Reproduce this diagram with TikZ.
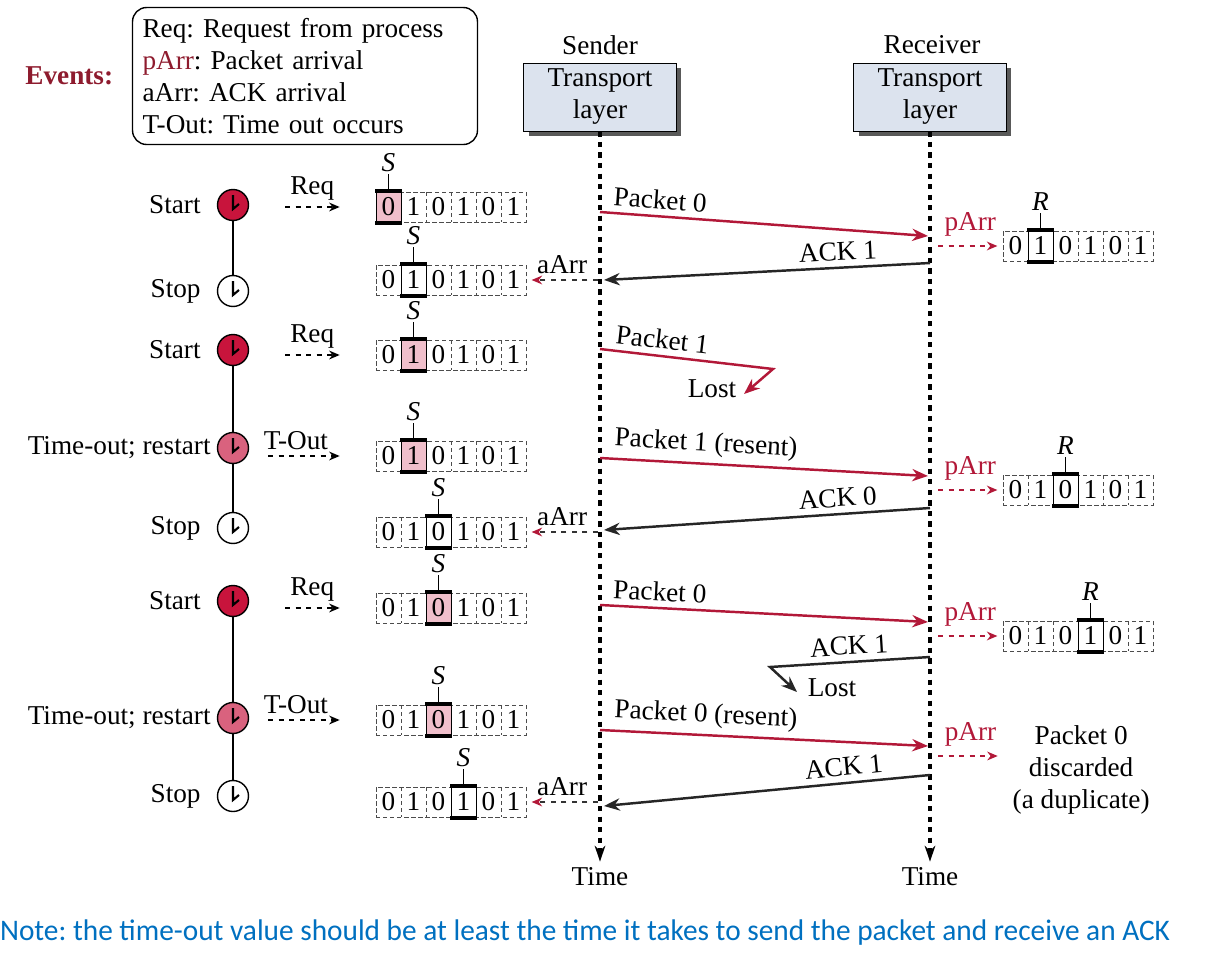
\documentclass[tikz,border=0pt]{standalone}
\usepackage{fontspec}
\setmainfont{Liberation Serif}
\newfontfamily\notefont{Carlito}
\usetikzlibrary{positioning,arrows.meta,shadows}
\definecolor{pktred}{HTML}{B21838}
\definecolor{evred}{HTML}{8E1B2E}
\definecolor{startred}{HTML}{C8143C}
\definecolor{outpink}{HTML}{D9627E}
\definecolor{cellpink}{HTML}{F0BFCB}
\definecolor{boxblue}{HTML}{DCE3EE}
\definecolor{noteblue}{HTML}{0070C0}
\frenchspacing
\begin{document}
\begin{tikzpicture}[x=0.02cm,y=-0.02cm,font=\fontsize{15.5}{18.2}\selectfont,
    clk/.style={circle,draw,thick,minimum size=0.62cm,inner sep=0pt,
      path picture={\draw[line width=1.2pt] ([yshift=0.2cm]path picture bounding box.center)
        -- ([yshift=-0.08cm]path picture bounding box.center)
        -- ([xshift=0.12cm,yshift=0.02cm]path picture bounding box.center);}},
    startclk/.style={clk,fill=startred},
    outclk/.style={clk,fill=outpink},
    stopclk/.style={clk,fill=white},
    layerbox/.style={draw,fill=boxblue,minimum width=3.06cm,minimum height=1.36cm,inner sep=1pt,align=center,
      drop shadow={shadow xshift=0.1cm,shadow yshift=-0.1cm,opacity=1,fill=black!65}},
    evbox/.style={draw,thick,rounded corners=8pt,align=left,text width=6.5cm,inner xsep=0.2cm,minimum height=2.74cm},
    timeline/.style={line width=1.8pt,dash pattern=on 3pt off 3pt,-{Stealth[length=9pt,width=6pt]}},
    pkt/.style={draw=pktred,line width=1.4pt,-{Stealth[length=9pt,width=7pt]}},
    ack/.style={draw=black!85,line width=1.4pt,-{Stealth[length=9pt,width=7pt]}},
    evarrow/.style={dashed,thick,shorten >=0.72cm,-{Stealth[length=6pt,width=5pt]}},
    aarr/.style={dashed,thick,draw=black!80,shorten >=3pt,-{Stealth[length=6pt,width=5pt,color=pktred]}},
    parr/.style={dashed,thick,draw=pktred,shorten >=3pt,-{Stealth[length=6pt,width=5pt]}},
    seqframe/.style={draw=black!70,dash pattern=on 2.5pt off 1.5pt,minimum width=3cm,minimum height=0.6cm,inner sep=0pt},
    sepline/.style={draw=black!70,dash pattern=on 2.5pt off 1.5pt},
    pics/seqbox/.style n args={3}{code={
      \node[seqframe] (-box) at (75,0) {};
      \foreach \i in {1,...,5}
        \draw[sepline] (25*\i,-15) -- (25*\i,15);
      \draw[fill=#2] (25*#1-25,-15) rectangle (25*#1,15);
      \draw[line width=2.5pt] (25*#1-26,-16) -- (25*#1+1,-16) (25*#1-26,16) -- (25*#1+1,16);
      \foreach \i in {1,...,6}{
        \pgfmathtruncatemacro\dg{mod(\i+1,2)}
        \node[inner sep=0pt] (-d\i) at (25*\i-12.5,0) {\dg};
      }
      \node[inner sep=1pt] (-lab) at (25*#1-12.5,-44) {\textit{#3}};
      \draw (-lab) -- (25*#1-12.5,-17);
    }}]
  \useasboundingbox (0,0) rectangle (1218,964);

  \node[evbox] (events) at (305,76) {Req: Request from process\\\textcolor{evred}{pArr}: Packet arrival\\aArr: ACK arrival\\T-Out: Time out occurs};
  \node[left=0.25cm of events,text=evred,font=\bfseries\fontsize{15.5}{18}\selectfont] (evtitle) {Events:};

  \node (sender) at (600,45) {Sender};
  \node[layerbox] (sbox) at (600,97) {Transport\\layer};
  \node (receiver) at (932,45) {Receiver};
  \node[layerbox] (rbox) at (930,97) {Transport\\layer};
  \node (stime) at (600,877) {Time};
  \node (rtime) at (930,877) {Time};
  \draw[timeline] (sbox.south) -- (stime.north);
  \draw[timeline] (rbox.south) -- (rtime.north);

  \node[startclk] (start1) at (233,205) {};
  \node[stopclk] (stop1) at (233,291) {};
  \node[startclk] (start2) at (233,350) {};
  \node[outclk] (tout1) at (233,448) {};
  \node[stopclk] (stop2) at (233,528) {};
  \node[startclk] (start3) at (233,601) {};
  \node[outclk] (tout2) at (233,718) {};
  \node[stopclk] (stop3) at (233,796) {};
  \draw[thick] (start1) -- (stop1);
  \draw[thick] (start2) -- (tout1) -- (stop2);
  \draw[thick] (start3) -- (tout2) -- (stop3);
  \node[left=0.2cm of start1] (start1l) {Start};
  \node[left=0.2cm of stop1] (stop1l) {Stop};
  \node[left=0.2cm of start2] (start2l) {Start};
  \node[left=0pt of tout1] (tout1l) {Time-out; restart};
  \node[left=0.2cm of stop2] (stop2l) {Stop};
  \node[left=0.2cm of start3] (start3l) {Start};
  \node[left=0pt of tout2] (tout2l) {Time-out; restart};
  \node[left=0.2cm of stop3] (stop3l) {Stop};

  \pic (s1) at (376,207) {seqbox={1}{cellpink}{S}};
  \pic (s2) at (376,280) {seqbox={2}{white}{S}};
  \pic (s3) at (376,355) {seqbox={2}{cellpink}{S}};
  \pic (s4) at (376,456) {seqbox={2}{cellpink}{S}};
  \pic (s5) at (376,532) {seqbox={3}{white}{S}};
  \pic (s6) at (376,608) {seqbox={3}{cellpink}{S}};
  \pic (s7) at (376,720) {seqbox={3}{cellpink}{S}};
  \pic (s8) at (376,802) {seqbox={4}{white}{S}};
  \pic (r1) at (1003,246) {seqbox={2}{white}{R}};
  \pic (r2) at (1003,490) {seqbox={3}{white}{R}};
  \pic (r3) at (1003,636) {seqbox={4}{white}{R}};

  \coordinate (req1) at (285,207);
  \coordinate (req2) at (285,355);
  \coordinate (req3) at (285,608);
  \coordinate (to1) at (268,456);
  \coordinate (to2) at (268,720);
  \draw (req1) edge[evarrow] node[above,pos=0.3] (req1l) {Req} (s1-box.west);
  \draw (req2) edge[evarrow] node[above,pos=0.3] (req2l) {Req} (s3-box.west);
  \draw (req3) edge[evarrow] node[above,pos=0.3] (req3l) {Req} (s6-box.west);
  \draw (to1) edge[evarrow] node[above,pos=0.26] (to1l) {T-Out} (s4-box.west);
  \draw (to2) edge[evarrow] node[above,pos=0.26] (to2l) {T-Out} (s7-box.west);

  \coordinate (aa1) at (598,280);
  \coordinate (aa2) at (598,532);
  \coordinate (aa3) at (598,802);
  \draw (aa1) edge[aarr] node[above] (aa1l) {aArr} (s2-box.east);
  \draw (aa2) edge[aarr] node[above] (aa2l) {aArr} (s5-box.east);
  \draw (aa3) edge[aarr] node[above] (aa3l) {aArr} (s8-box.east);

  \coordinate (pa1) at (938,246);
  \coordinate (pa2) at (938,490);
  \coordinate (pa3) at (938,636);
  \coordinate (pa4) at (938,756);
  \coordinate (pa4e) at (1003,756);
  \draw (pa1) edge[parr] node[above=2pt,text=pktred] (pa1l) {pArr} (r1-box.west);
  \draw (pa2) edge[parr] node[above=2pt,text=pktred] (pa2l) {pArr} (r2-box.west);
  \draw (pa3) edge[parr] node[above=2pt,text=pktred] (pa3l) {pArr} (r3-box.west);
  \draw (pa4) edge[parr] node[above=2pt,text=pktred] (pa4l) {pArr} (pa4e);
  \node[align=center,right=2pt of pa4e,yshift=-0.28cm] (disc) {Packet 0\\discarded\\(a duplicate)};

  \coordinate (m1a) at (600,212);
  \coordinate (m1b) at (928,236);
  \coordinate (m2a) at (930,263);
  \coordinate (m2b) at (604,280);
  \coordinate (m3a) at (600,349);
  \coordinate (m3b) at (773,369);
  \coordinate (m3c) at (744,394);
  \coordinate (m4a) at (600,458);
  \coordinate (m4b) at (928,476);
  \coordinate (m5a) at (930,508);
  \coordinate (m5b) at (604,530);
  \coordinate (m6a) at (600,605);
  \coordinate (m6b) at (928,622);
  \coordinate (m7a) at (930,657);
  \coordinate (m7b) at (770,667);
  \coordinate (m7c) at (797,692);
  \coordinate (m8a) at (600,730);
  \coordinate (m8b) at (928,746);
  \coordinate (m9a) at (930,775);
  \coordinate (m9b) at (604,806);

  \draw (m1a) edge[pkt] node[sloped,above,pos=0.18] (m1l) {Packet 0} (m1b);
  \draw (m2a) edge[ack] node[sloped,above,pos=0.28] (m2l) {ACK 1} (m2b);
  \draw[pkt] (m3a) -- node[sloped,above,pos=0.35] (m3l) {Packet 1} (m3b) -- (m3c);
  \node (lost1) at (712,389) {Lost};
  \draw (m4a) edge[pkt] node[sloped,above,pos=0.32] (m4l) {Packet 1 (resent)} (m4b);
  \draw (m5a) edge[ack] node[sloped,above,pos=0.28] (m5l) {ACK 0} (m5b);
  \draw (m6a) edge[pkt] node[sloped,above,pos=0.18] (m6l) {Packet 0} (m6b);
  \draw[ack] (m7a) -- node[sloped,above,pos=0.5] (m7l) {ACK 1} (m7b) -- (m7c);
  \node (lost2) at (832,688) {Lost};
  \draw (m8a) edge[pkt] node[sloped,above,pos=0.32] (m8l) {Packet 0 (resent)} (m8b);
  \draw (m9a) edge[ack] node[sloped,above,pos=0.26] (m9l) {ACK 1} (m9b);

  \node[text=noteblue,font=\notefont\fontsize{17}{20}\selectfont] (note) at (585,933)
    {\resizebox{23.4cm}{\height}{Note: the time-out value should be at least the time it takes to send the packet and receive an ACK}};
\end{tikzpicture}
\end{document}
